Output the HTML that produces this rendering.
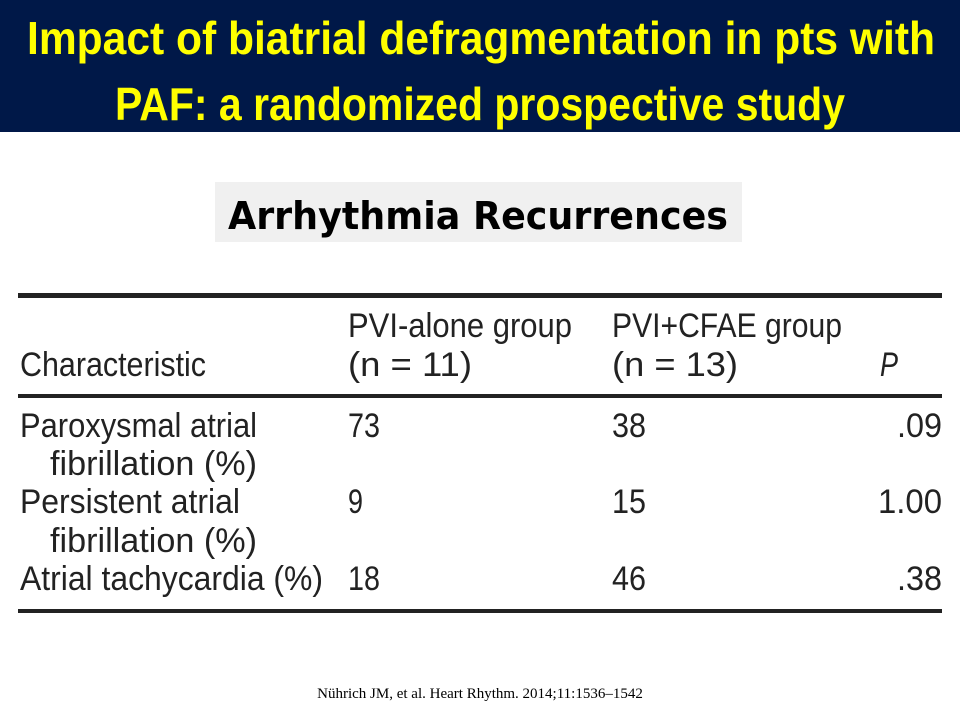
<!DOCTYPE html>
<html><head><meta charset="utf-8"><style>
html,body{margin:0;padding:0;background:#fff;width:960px;height:720px;overflow:hidden}
</style></head><body>
<svg width="960" height="720" xmlns="http://www.w3.org/2000/svg">
<rect x="0" y="0" width="960" height="132" fill="#001848"/>
<g font-family="Liberation Sans, sans-serif" font-weight="bold" font-size="46" fill="#ffff00">
<text x="27" y="54" textLength="908" lengthAdjust="spacingAndGlyphs">Impact of biatrial defragmentation in pts with</text>
<text x="115" y="120" textLength="730" lengthAdjust="spacingAndGlyphs">PAF: a randomized prospective study</text>
</g>
<rect x="215" y="182" width="527" height="60" fill="#f0f0f0"/>
<text x="228" y="229" font-family="DejaVu Sans, sans-serif" font-weight="bold" font-size="38" fill="#000" textLength="500" lengthAdjust="spacingAndGlyphs">Arrhythmia Recurrences</text>
<g fill="#222">
<rect x="18" y="293" width="924" height="5"/>
<rect x="18" y="394" width="924" height="4"/>
<rect x="18" y="609" width="924" height="4"/>
</g>
<g font-family="Liberation Sans, sans-serif" font-size="34" fill="#222">
<text x="20" y="376" textLength="186" lengthAdjust="spacingAndGlyphs">Characteristic</text>
<text x="348" y="337" textLength="224" lengthAdjust="spacingAndGlyphs">PVI-alone group</text>
<text x="348" y="376" textLength="124" lengthAdjust="spacingAndGlyphs">(n = 11)</text>
<text x="612" y="337" textLength="230" lengthAdjust="spacingAndGlyphs">PVI+CFAE group</text>
<text x="612" y="376" textLength="126" lengthAdjust="spacingAndGlyphs">(n = 13)</text>
<text x="880" y="376" font-style="italic" textLength="18" lengthAdjust="spacingAndGlyphs">P</text>
<text x="20" y="437" textLength="237" lengthAdjust="spacingAndGlyphs">Paroxysmal atrial</text>
<text x="50" y="475" textLength="207" lengthAdjust="spacingAndGlyphs">fibrillation (%)</text>
<text x="20" y="513" textLength="220" lengthAdjust="spacingAndGlyphs">Persistent atrial</text>
<text x="50" y="552" textLength="207" lengthAdjust="spacingAndGlyphs">fibrillation (%)</text>
<text x="20" y="590" textLength="303" lengthAdjust="spacingAndGlyphs">Atrial tachycardia (%)</text>
<text x="348" y="437" textLength="32" lengthAdjust="spacingAndGlyphs">73</text>
<text x="348" y="513" textLength="15" lengthAdjust="spacingAndGlyphs">9</text>
<text x="348" y="590" textLength="32" lengthAdjust="spacingAndGlyphs">18</text>
<text x="612" y="437" textLength="34" lengthAdjust="spacingAndGlyphs">38</text>
<text x="612" y="513" textLength="34" lengthAdjust="spacingAndGlyphs">15</text>
<text x="612" y="590" textLength="34" lengthAdjust="spacingAndGlyphs">46</text>
<text x="897" y="437" textLength="45" lengthAdjust="spacingAndGlyphs">.09</text>
<text x="878" y="513" textLength="64" lengthAdjust="spacingAndGlyphs">1.00</text>
<text x="897" y="590" textLength="45" lengthAdjust="spacingAndGlyphs">.38</text>
</g>
<text x="480" y="698" text-anchor="middle" font-family="Liberation Serif, serif" font-size="15" fill="#000">Nührich JM, et al. Heart Rhythm. 2014;11:1536–1542</text>
</svg>
</body></html>
